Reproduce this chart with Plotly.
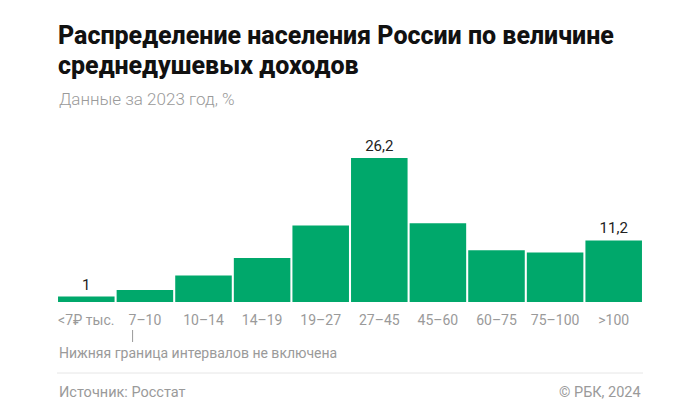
import plotly.graph_objects as go

categories = ["<7₽ тыс.", "7–10", "10–14", "14–19", "19–27", "27–45", "45–60", "60–75", "75–100", ">100"]
values = [1.0, 2.2, 4.8, 8.0, 13.9, 26.2, 14.3, 9.4, 9.0, 11.2]
labeled = ["<7₽ тыс.", "27–45", ">100"]

def fmt(v):
    s = f"{v:.1f}".replace(".", ",")
    return s[:-2] if s.endswith(",0") else s

texts = [fmt(v) if c in labeled else "" for c, v in zip(categories, values)]

OFF = 8  # page body margin
W, H = 700 - OFF, 419 - OFF
L, R = 57 - OFF, 643 - OFF
TOP, BASE = 137 - OFF, 302 - OFF
FONT = "Roboto"
GRAY = "#9a9a9a"

def py(ypix):
    # ypix given in reference screen coords
    return (BASE - (ypix - OFF)) / (BASE - TOP)

fig = go.Figure(go.Bar(
    x=list(range(len(categories))), y=values,
    marker=dict(color="#00a86b", line=dict(width=0)),
    text=texts, textposition="outside", cliponaxis=False,
    textfont=dict(family=FONT, size=15, color="#222222"),
    hoverinfo="skip",
))

fig.update_layout(
    width=W, height=H,
    margin=dict(l=L, r=W - R, t=TOP, b=H - BASE, pad=0),
    paper_bgcolor="white", plot_bgcolor="white",
    bargap=0.035, showlegend=False,
    font=dict(family=FONT),
)
fig.update_xaxes(
    tickmode="array", tickvals=list(range(len(categories))), ticktext=categories,
    range=[-0.5, len(categories) - 0.5],
    showgrid=False, zeroline=False, showline=False, ticks="",
    tickfont=dict(family=FONT, size=14, color=GRAY),
    ticklabelstandoff=8,
)
fig.update_yaxes(range=[0, 30], visible=False)

TFONT = dict(family=FONT, size=25, color="#111111", weight=800)
ann = [
    dict(text="Распределение населения России по величине", x=0, y=py(35.5), xanchor="left",
         yanchor="middle", font=TFONT, borderpad=0),
    dict(text="среднедушевых доходов", x=0, y=py(65.5), xanchor="left",
         yanchor="middle", font=TFONT, borderpad=0),
    dict(text="Данные за 2023 год, %", x=0, y=py(99), xanchor="left", yanchor="middle",
         font=dict(size=17, color=GRAY, weight=300)),
    dict(text="Нижняя граница интервалов не включена", x=0, y=py(353), xanchor="left", yanchor="middle",
         font=dict(size=14, color=GRAY)),
    dict(text="Источник: Росстат", x=0, y=py(392), xanchor="left", yanchor="middle",
         font=dict(size=14.5, color=GRAY)),
    dict(text="© РБК, 2024", x=1, y=py(392), xanchor="right", yanchor="middle",
         font=dict(size=14.5, color=GRAY)),
]
for a in ann:
    a.update(xref="paper", yref="paper", showarrow=False)
    a["font"] = dict(a["font"], family=FONT)
fig.update_layout(annotations=ann)

fig.add_shape(type="line", xref="x", yref="paper", x0=0.79, x1=0.79, y0=py(330), y1=py(342),
              line=dict(color=GRAY, width=1))
fig.add_shape(type="line", xref="paper", yref="paper", x0=0, x1=1, y0=py(373), y1=py(373),
              line=dict(color="#e6e6e6", width=1))

fig.write_html("out.html")
